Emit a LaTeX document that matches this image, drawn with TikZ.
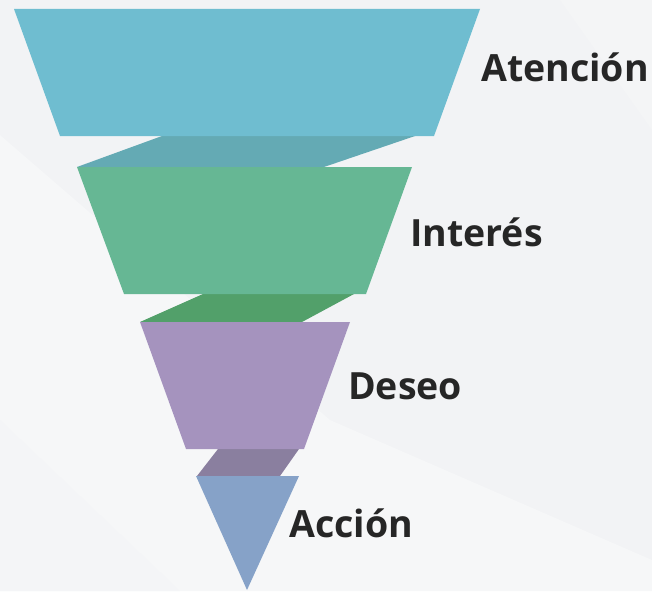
\documentclass[tikz,border=0pt]{standalone}
\usepackage{fontspec}
\setmainfont{Open Sans}
\begin{document}
\begin{tikzpicture}[x=1pt,y=-1pt,
  lbl/.style={anchor=base west,inner sep=0pt,font=\fontsize{37.5}{42}\selectfont\bfseries,text=txt}]
\definecolor{bg}{HTML}{F2F3F5}
\definecolor{bglite}{HTML}{F6F7F8}
\definecolor{txt}{HTML}{262626}
\definecolor{c1}{HTML}{6FBDD0}
\definecolor{k1}{HTML}{64AAB4}
\definecolor{c2}{HTML}{66B794}
\definecolor{k2}{HTML}{52A06A}
\definecolor{c3}{HTML}{A593BE}
\definecolor{k3}{HTML}{8A7F9F}
\definecolor{c4}{HTML}{86A2C8}
% background
\fill[bg] (0,0) rectangle (652,591);
\fill[bglite] (0,135) -- (330,420) -- (652,560) -- (652,591) -- (0,591) -- cycle;
\fill[bg!50!bglite] (0,420) -- (180,591) -- (0,591) -- cycle;
\fill[bg!60!bglite] (560,0) -- (652,0) -- (652,130) -- cycle;
\useasboundingbox (0,0) rectangle (652,591);
% connectors
\fill[k1] (162,136) -- (415,136) -- (324,167) -- (77,167) -- cycle;
\fill[k2] (203,294) -- (354,294) -- (302,322) -- (140,322) -- cycle;
\fill[k3] (218,449) -- (299,449) -- (280,476) -- (197,476) -- cycle;
% stages
\fill[c1] (14,9) -- (480,9) -- (434,136) -- (60,136) -- cycle;
\fill[c2] (77,167) -- (412,167) -- (366,294) -- (124,294) -- cycle;
\fill[c3] (140,322) -- (350,322) -- (304,449) -- (186,449) -- cycle;
\fill[c4] (196,476) -- (299,476) -- (247,590) -- cycle;
% labels
\node[lbl] (a) at (481,82) {Atención};
\node[lbl] (b) at (410,246) {Interés};
\node[lbl] (c) at (348,399) {Deseo};
\node[lbl] (d) at (289,537) {Acción};
\end{tikzpicture}
\end{document}
